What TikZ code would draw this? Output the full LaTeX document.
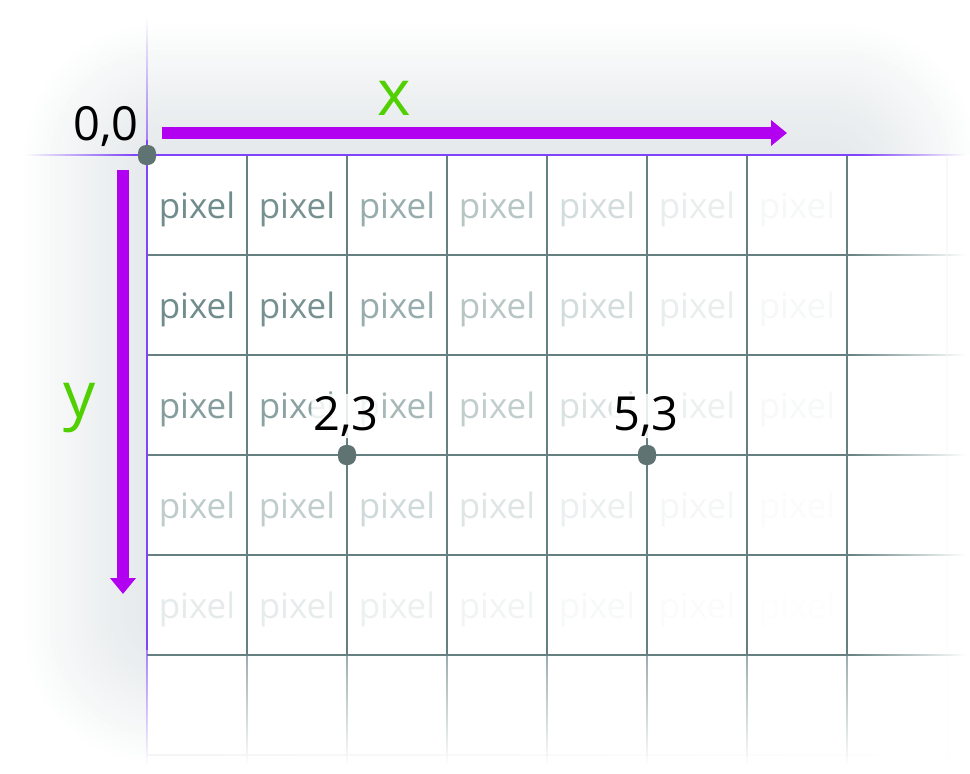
\documentclass[tikz,border=0pt]{standalone}
\usepackage{fontspec}
\setmainfont{Open Sans}
\usetikzlibrary{arrows.meta,fadings,positioning}

\definecolor{gridcol}{RGB}{100,128,128}
\definecolor{pixcol}{RGB}{112,140,140}
\definecolor{edgecol}{RGB}{128,68,252}
\definecolor{axiscol}{RGB}{178,0,240}
\definecolor{axisname}{RGB}{80,208,0}
\definecolor{dotcol}{RGB}{95,115,115}
\definecolor{shadowcol}{RGB}{190,200,205}
\definecolor{faintcol}{RGB}{244,246,246}

\tikzfading[name=fadeout right, left color=transparent!0, right color=transparent!100]
\tikzfading[name=fadein right, left color=transparent!100, right color=transparent!0]
\tikzfading[name=fadeout down, top color=transparent!0, bottom color=transparent!100]
\tikzfading[name=fadein down, top color=transparent!100, bottom color=transparent!0]

% thin faded strip: colour, fading, x1, y1, x2, y2
\newcommand\hfade[6]{%
  \begin{scope}
    \clip (#3,#4-0.7) rectangle (#5,#6+0.7);
    \fill[#1,path fading=#2] (#3,#4-20) rectangle (#5,#6+20);
  \end{scope}}
\newcommand\vfade[6]{%
  \begin{scope}
    \clip (#3-0.7,#4) rectangle (#5+0.7,#6);
    \fill[#1,path fading=#2] (#3-20,#4) rectangle (#5+20,#6);
  \end{scope}}

\begin{document}
\begin{tikzpicture}[x=1pt,y=-1pt,
    pix/.style={anchor=base,inner sep=0,text=pixcol,font=\fontsize{35}{40}\selectfont},
    coordlabel/.style={anchor=base,inner sep=0,font=\fontsize{47}{50}\selectfont},
    halo/.style={fill=white,fill opacity=.85,text opacity=1,rounded corners=6pt,inner sep=2pt},
    axislabel/.style={anchor=base,inner sep=0,text=axisname,font=\fontsize{64}{70}\selectfont},
    dot/.style={fill=dotcol,rounded corners=8pt,minimum width=18pt,minimum height=20pt,inner sep=0},
    gridline/.style={gridcol,line width=1.2pt},
    edge/.style={edgecol,line width=1.6pt},
    axis/.style={axiscol,line width=12pt,-{Triangle[length=16pt,width=25pt]}}]
  \useasboundingbox (0,0) rectangle (970,774);
  \clip (0,0) rectangle (970,774);
  % soft shadow
  \foreach \i in {0,...,24}{
    \pgfmathsetmacro\rr{max(130-4*\i,4)}
    \fill[shadowcol,opacity=.02,rounded corners=\rr pt]
      ({25+5*\i},{25+5*\i}) rectangle ({975-5*\i},{762-5*\i});
  }
  \fill[white] (147,155) rectangle (970,774);
  % pixels
  \foreach \c/\fc in {0/1,1/.95,2/.72,3/.5,4/.3,5/.15,6/.06}
    \foreach \r/\gr in {0/1,1/1,2/.85,3/.45,4/.18}{
      \pgfmathsetmacro\op{\fc*\gr}
      \node[pix,text opacity=\op] (p\c\r) at ({197+100*\c},{218+100*\r}) {pixel};
    }
  % grid
  \foreach \k in {1,...,7}{
    \pgfmathtruncatemacro\gx{147+100*\k}
    \draw[gridline] (\gx,155) -- (\gx,655);
    \vfade{gridcol}{fadeout down}{\gx}{655}{\gx}{765}
  }
  \foreach \k in {1,...,5}{
    \pgfmathtruncatemacro\gy{155+100*\k}
    \draw[gridline] (147,\gy) -- (847,\gy);
    \hfade{gridcol}{fadeout right}{847}{\gy}{965}{\gy}
  }
  \vfade{faintcol}{fadeout down}{947}{156}{947}{760}
  \hfade{faintcol}{fadeout right}{148}{755}{965}{755}
  % edges
  \draw[edge] (135,155) -- (860,155);
  \hfade{edgecol}{fadein right}{25}{155}{135}{155}
  \hfade{edgecol}{fadeout right}{860}{155}{965}{155}
  \draw[edge] (147,140) -- (147,650);
  \vfade{edgecol}{fadein down}{147}{15}{147}{140}
  \vfade{edgecol}{fadeout down}{147}{650}{147}{765}
  % points
  \node[dot] (o) at (147,155) {};
  \node[dot] (a) at (347,455) {};
  \node[dot] (b) at (647,455) {};
  \node[coordlabel,anchor=base east] (lo) at (139,140) {0,0};
  \node[coordlabel,halo] (la) at (346,430) {2,3};
  \node[coordlabel,halo] (lb) at (646,430) {5,3};
  % axes
  \coordinate (xs) at (162,133);
  \coordinate (xe) at (787,133);
  \coordinate (ys) at (123,170);
  \coordinate (ye) at (123,594);
  \draw[axis] (xs) -- (xe);
  \draw[axis] (ys) -- (ye);
  \node[axislabel] (xl) at (394,115) {x};
  \node[axislabel] (yl) at (80,417) {y};
\end{tikzpicture}
\end{document}
